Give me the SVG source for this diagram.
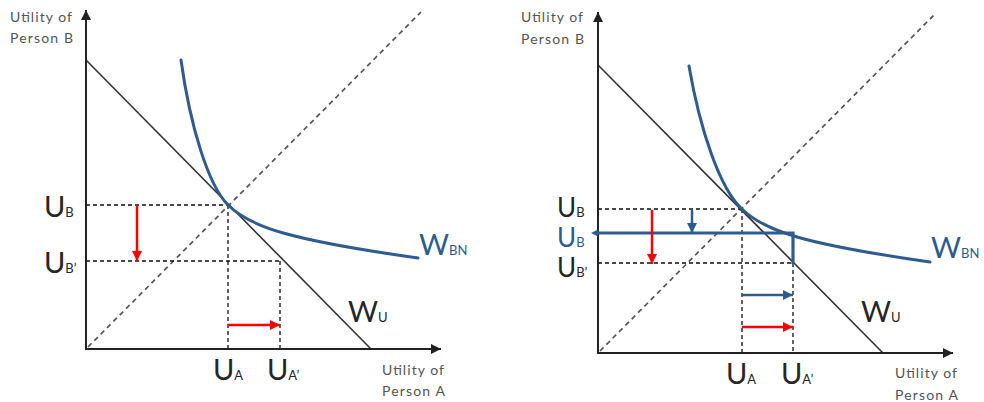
<svg xmlns="http://www.w3.org/2000/svg" width="984" height="402" viewBox="0 0 984 402">
<style>
.axis{stroke:#222;stroke-width:2;fill:none}
.wu{stroke:#333;stroke-width:1.6;fill:none}
.diag{stroke:#555;stroke-width:1.7;stroke-dasharray:5 4;fill:none}
.dash{stroke:#111;stroke-width:1.3;stroke-dasharray:4 3;fill:none}
.bn{stroke:#2E5C91;stroke-width:3;fill:none;stroke-linecap:round}
.red{stroke:#FF0000;stroke-width:2.5;fill:none}
.blue{stroke:#2E5C91;stroke-width:2.5;fill:none}
.small{font-family:Lato,"Open Sans",sans-serif;font-size:14px;fill:#555}
.big{font-family:Lato,"Open Sans",sans-serif;font-size:29px;fill:#262626}
.mid{font-family:Lato,"Open Sans",sans-serif;font-size:26px;fill:#262626}
.sub{font-size:13px}
.bigb{font-family:Lato,"Open Sans",sans-serif;font-size:29px;fill:#2E5C91}
.midb{font-family:Lato,"Open Sans",sans-serif;font-size:26px;fill:#2E5C91}
</style>
<defs>
<marker id="ax" viewBox="0 0 10 10" refX="10" refY="5" markerWidth="11" markerHeight="10" markerUnits="userSpaceOnUse" orient="auto"><path d="M0,0 L10,5 L0,10 z" fill="#222"/></marker>
<marker id="ar" viewBox="0 0 10 10" refX="10" refY="5" markerWidth="10" markerHeight="10" markerUnits="userSpaceOnUse" orient="auto"><path d="M0,0 L10,5 L0,10 z" fill="#FF0000"/></marker>
<marker id="ab" viewBox="0 0 10 10" refX="10" refY="5" markerWidth="10" markerHeight="10" markerUnits="userSpaceOnUse" orient="auto"><path d="M0,0 L10,5 L0,10 z" fill="#2E5C91"/></marker>
</defs>

<g id="left-panel">
<g id="connectors-left">
<line class="diag" x1="88" y1="347" x2="421" y2="12"/>
<line class="dash" x1="86" y1="205" x2="228" y2="205"/>
<line class="dash" x1="86" y1="261" x2="280" y2="261"/>
<line class="dash" x1="228" y1="205" x2="228" y2="349"/>
<line class="dash" x1="280" y1="261" x2="280" y2="349"/>
<line class="wu" x1="86" y1="60" x2="371" y2="349"/>
<path class="bn" d="M181,60 C190,125 208,185 228,205 C250,227 290,240 418,258"/>
<line class="axis" x1="86" y1="350" x2="86" y2="10" marker-end="url(#ax)"/>
<line class="axis" x1="85" y1="349" x2="441" y2="349" marker-end="url(#ax)"/>
<line class="red" x1="137" y1="206" x2="137" y2="261" marker-end="url(#ar)"/>
<line class="red" x1="228" y1="325" x2="280" y2="325" marker-end="url(#ar)"/>
</g>
<g id="labels-left">
<text class="small" x="10" y="22" textLength="62">Utility of</text>
<text class="small" x="10" y="43" textLength="63">Person B</text>
<text class="small" x="382" y="375" textLength="62">Utility of</text>
<text class="small" x="382" y="396" textLength="63">Person A</text>
<text class="big" x="44" y="217">U<tspan class="sub">B</tspan></text>
<text class="big" x="44" y="273">U<tspan class="sub">B’</tspan></text>
<text class="big" x="213" y="380">U<tspan class="sub">A</tspan></text>
<text class="big" x="267" y="380">U<tspan class="sub">A’</tspan></text>
<text class="big" x="348" y="322">W<tspan class="sub">U</tspan></text>
<text class="bigb" x="419" y="255">W<tspan class="sub">BN</tspan></text>
</g>
</g>

<g id="right-panel">
<g id="connectors-right">
<line class="diag" x1="600" y1="351" x2="935" y2="14"/>
<line class="dash" x1="598" y1="209" x2="742" y2="209"/>
<line class="dash" x1="598" y1="263" x2="793" y2="263"/>
<line class="dash" x1="742" y1="209" x2="742" y2="353"/>
<line class="dash" x1="793" y1="263" x2="793" y2="353"/>
<line class="wu" x1="598" y1="65" x2="883" y2="353"/>
<path class="bn" d="M689,66 C700,130 720,189 742,209 C764,231 804,244 930,262"/>
<line class="axis" x1="598" y1="354" x2="598" y2="12" marker-end="url(#ax)"/>
<line class="axis" x1="597" y1="353" x2="953" y2="353" marker-end="url(#ax)"/>
<path d="M598,233 L793,233 L793,264" stroke="#2E5C91" stroke-width="3.2" fill="none"/>
<polygon points="591,233 598,229.5 598,236.5" fill="#2E5C91"/>
<line class="red" x1="652" y1="210" x2="652" y2="264" marker-end="url(#ar)"/>
<line class="blue" x1="692" y1="210" x2="692" y2="233" marker-end="url(#ab)"/>
<line class="blue" x1="742" y1="295" x2="793" y2="295" marker-end="url(#ab)"/>
<line class="red" x1="742" y1="327" x2="793" y2="327" marker-end="url(#ar)"/>
</g>
<g id="labels-right">
<text class="small" x="521" y="22" textLength="62">Utility of</text>
<text class="small" x="521" y="44" textLength="63">Person B</text>
<text class="small" x="895" y="378" textLength="62">Utility of</text>
<text class="small" x="895" y="400" textLength="63">Person A</text>
<text class="mid" x="557" y="217">U<tspan class="sub">B</tspan></text>
<text class="midb" x="557" y="247">U<tspan class="sub">B</tspan></text>
<text class="mid" x="557" y="277">U<tspan class="sub">B’</tspan></text>
<text class="big" x="726" y="384">U<tspan class="sub">A</tspan></text>
<text class="big" x="781" y="384">U<tspan class="sub">A’</tspan></text>
<text class="big" x="861" y="322">W<tspan class="sub">U</tspan></text>
<text class="bigb" x="931" y="258">W<tspan class="sub">BN</tspan></text>
</g>
</g>
</svg>
